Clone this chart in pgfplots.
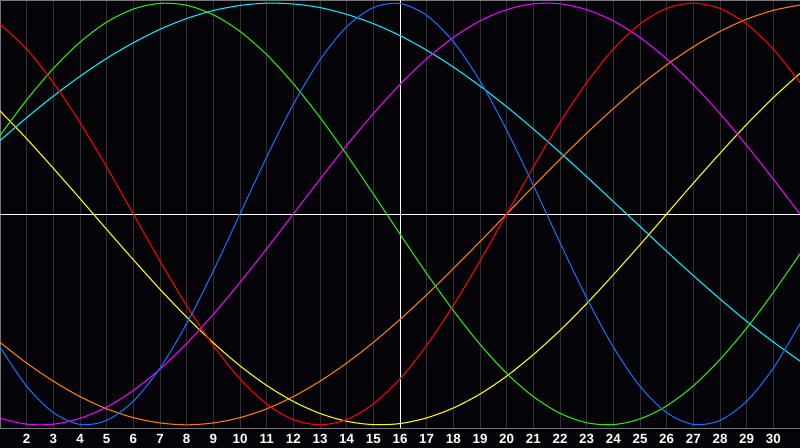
\documentclass[border=0pt]{standalone}
\usepackage{fontspec}
\setmainfont{Liberation Sans}
\usepackage{pgfplots}
\usepackage{pgfplotstable}
\pgfplotsset{compat=1.18}

\definecolor{bg}{RGB}{4,4,8}
\definecolor{gridgray}{RGB}{48,48,52}
\definecolor{bordergray}{RGB}{120,120,120}
\definecolor{cblue}{RGB}{20,110,255}
\definecolor{cred}{RGB}{255,0,0}
\definecolor{cgreen}{RGB}{40,235,0}
\definecolor{cmag}{RGB}{240,0,255}
\definecolor{cyel}{RGB}{255,255,0}
\definecolor{corange}{RGB}{255,128,0}
\definecolor{ccyan}{RGB}{0,240,255}

% day, then one column per cycle (23, 28, 33, 38, 43, 48, 53 days)
\pgfplotstableread{
d  blue   red    green  mag    yel    orange cyan
1  -0.631 0.901  0.372  -0.969 0.489  -0.609 0.348
2  -0.817 0.782  0.541  -0.997 0.357  -0.707 0.457
3  -0.942 0.623  0.690  -0.997 0.217  -0.793 0.559
4  -0.998 0.434  0.815  -0.969 0.073  -0.866 0.653
5  -0.979 0.223  0.910  -0.916 -0.073 -0.924 0.738
6  -0.888 0.000  0.972  -0.837 -0.217 -0.966 0.812
7  -0.731 -0.223 0.999  -0.736 -0.357 -0.991 0.876
8  -0.520 -0.434 0.990  -0.614 -0.489 -1.000 0.927
9  -0.270 -0.623 0.945  -0.476 -0.611 -0.991 0.965
10 0.000  -0.782 0.866  -0.325 -0.720 -0.966 0.989
11 0.270  -0.901 0.756  -0.165 -0.813 -0.924 1.000
12 0.520  -0.975 0.618  0.000  -0.889 -0.866 0.996
13 0.731  -1.000 0.458  0.165  -0.946 -0.793 0.979
14 0.888  -0.975 0.282  0.325  -0.983 -0.707 0.947
15 0.979  -0.901 0.095  0.476  -0.999 -0.609 0.903
16 0.998  -0.782 -0.095 0.614  -0.994 -0.500 0.846
17 0.942  -0.623 -0.282 0.736  -0.967 -0.383 0.777
18 0.817  -0.434 -0.458 0.837  -0.920 -0.259 0.697
19 0.631  -0.223 -0.618 0.916  -0.854 -0.131 0.607
20 0.398  0.000  -0.756 0.969  -0.769 0.000  0.509
21 0.136  0.223  -0.866 0.997  -0.667 0.131  0.403
22 -0.136 0.434  -0.945 0.997  -0.552 0.259  0.292
23 -0.398 0.623  -0.990 0.969  -0.425 0.383  0.177
24 -0.631 0.782  -0.999 0.916  -0.288 0.500  0.059
25 -0.817 0.901  -0.972 0.837  -0.146 0.609  -0.059
26 -0.942 0.975  -0.910 0.736  0.000  0.707  -0.177
27 -0.998 1.000  -0.815 0.614  0.146  0.793  -0.292
28 -0.979 0.975  -0.690 0.476  0.288  0.866  -0.403
29 -0.888 0.901  -0.541 0.325  0.425  0.924  -0.509
30 -0.731 0.782  -0.372 0.165  0.552  0.966  -0.607
31 -0.520 0.623  -0.189 0.000  0.667  0.991  -0.697
}\cycles

\begin{document}
\begin{tikzpicture}
\fill[bg] (0,-0.4) rectangle (16,8.56);
\begin{axis}[
  at={(0,0)}, anchor=south west,
  scale only axis, width=16cm, height=8.56cm,
  xmin=1, xmax=31, ymin=-1.015, ymax=1.015,
  xtick={2,3,4,5,6,7,8,9,10,11,12,13,14,15,17,18,19,20,21,22,23,24,25,26,27,28,29,30},
  ytick=\empty,
  xmajorgrids,
  major grid style={gridgray, line width=0.55pt},
  extra x ticks={16},
  extra x tick style={major grid style={white, line width=0.55pt}},
  extra y ticks={0},
  extra y tick labels={},
  extra y tick style={ymajorgrids=true, major grid style={white, line width=0.55pt}},
  major tick length=0pt,
  axis line style={draw=bordergray, line width=0.55pt},
  xticklabel style={font=\fontsize{7.6}{9}\selectfont\bfseries, text=white,
    anchor=base, yshift=-0.32cm},
  /pgf/number format/assume math mode=true,
  every axis plot/.append style={line width=0.6pt, smooth, no markers},
]
\addplot[color=corange] table[x=d, y=orange] {\cycles};
\addplot[color=cyel]    table[x=d, y=yel]    {\cycles};
\addplot[color=ccyan]   table[x=d, y=cyan]   {\cycles};
\addplot[color=cmag]    table[x=d, y=mag]    {\cycles};
\addplot[color=cgreen]  table[x=d, y=green]  {\cycles};
\addplot[color=cred]    table[x=d, y=red]    {\cycles};
\addplot[color=cblue]   table[x=d, y=blue]   {\cycles};
\end{axis}
\pgfresetboundingbox
\useasboundingbox (0,-0.4) rectangle (16,8.56);
\end{tikzpicture}
\end{document}
